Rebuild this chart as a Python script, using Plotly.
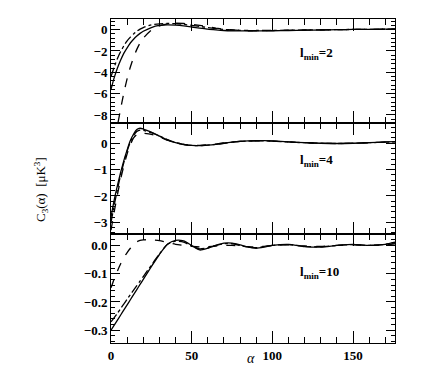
import plotly.graph_objects as go

alpha = [0, 2, 4, 6, 8, 10, 12, 14, 16, 18, 20, 25, 30, 35, 40, 45, 50, 55, 60, 65,
         70, 75, 80, 85, 90, 95, 100, 110, 120, 130, 140, 150, 160, 170, 176]

# lmin = 2 panel
p1_solid = [-5.6, -4.5, -3.6, -2.85, -2.2, -1.7, -1.25, -0.9, -0.6, -0.35, -0.15, 0.2, 0.4, 0.45,
            0.42, 0.35, 0.25, 0.15, 0.05, -0.02, -0.08, -0.11, -0.12, -0.12, -0.12, -0.11, -0.1,
            -0.08, -0.05, -0.03, 0.0, 0.02, 0.03, 0.05, 0.06]
p1_dashdot = [-4.4, -3.5, -2.7, -2.05, -1.5, -1.05, -0.7, -0.4, -0.15, 0.05, 0.2, 0.45, 0.55, 0.58,
              0.56, 0.5, 0.4, 0.3, 0.2, 0.1, 0.02, -0.03, -0.06, -0.08, -0.08, -0.08, -0.07,
              -0.05, -0.03, -0.02, 0.0, 0.02, 0.03, 0.04, 0.05]
p1_dashed = [-12.0, -10.5, -9.0, -7.4, -5.9, -4.6, -3.5, -2.6, -1.85, -1.25, -0.8, -0.05, 0.35, 0.55,
             0.6, 0.58, 0.5, 0.4, 0.28, 0.15, 0.05, -0.02, -0.07, -0.1, -0.1, -0.1, -0.09,
             -0.06, -0.04, -0.02, 0.0, 0.02, 0.03, 0.04, 0.05]

# lmin = 4 panel
p2_solid = [-2.8, -2.15, -1.6, -1.1, -0.65, -0.25, 0.1, 0.35, 0.52, 0.57, 0.54, 0.42, 0.27, 0.12,
            0.02, -0.05, -0.08, -0.09, -0.07, -0.04, 0.0, 0.04, 0.07, 0.09, 0.1, 0.1, 0.09,
            0.05, 0.02, 0.0, -0.01, 0.0, 0.02, 0.05, 0.06]
p2_dashdot = [-3.0, -2.35, -1.75, -1.2, -0.72, -0.3, 0.05, 0.3, 0.45, 0.5, 0.49, 0.4, 0.28, 0.14,
              0.03, -0.04, -0.08, -0.09, -0.07, -0.04, 0.0, 0.04, 0.07, 0.08, 0.09, 0.09, 0.08,
              0.05, 0.02, 0.0, -0.01, 0.0, 0.02, 0.04, 0.05]
p2_dashed = [-3.3, -2.6, -1.95, -1.35, -0.85, -0.4, -0.05, 0.2, 0.33, 0.38, 0.38, 0.34, 0.24, 0.12,
             0.03, -0.04, -0.07, -0.08, -0.06, -0.03, 0.01, 0.04, 0.07, 0.08, 0.09, 0.09, 0.08,
             0.05, 0.02, 0.0, -0.01, 0.0, 0.02, 0.04, 0.05]

# lmin = 10 panel
p3_solid = [-0.3, -0.282, -0.264, -0.246, -0.228, -0.21, -0.192, -0.174, -0.156, -0.138, -0.12,
            -0.075, -0.032, 0.004, 0.018, 0.016, 0.0, -0.016, -0.01, 0.0, 0.008, 0.008, 0.002,
            -0.006, -0.01, -0.006, 0.0, 0.004, -0.004, -0.006, 0.0, 0.004, 0.0, 0.004, 0.012]
p3_dashdot = [-0.27, -0.255, -0.24, -0.223, -0.207, -0.19, -0.174, -0.158, -0.142, -0.126, -0.11,
              -0.07, -0.03, 0.004, 0.015, 0.012, -0.002, -0.012, -0.008, 0.0, 0.006, 0.006, 0.0,
              -0.006, -0.008, -0.004, 0.0, 0.003, -0.003, -0.005, 0.0, 0.003, 0.0, 0.004, 0.01]
p3_dashed = [-0.15, -0.118, -0.09, -0.065, -0.043, -0.025, -0.01, 0.003, 0.013, 0.018, 0.02,
             0.02, 0.017, 0.01, 0.004, 0.0, -0.003, -0.005, -0.004, -0.002, 0.0, 0.0, -0.002,
             -0.004, -0.005, -0.003, 0.0, 0.002, -0.002, -0.003, 0.0, 0.002, 0.0, 0.002, 0.006]

panel_labels = ["l<sub>min</sub>=2", "l<sub>min</sub>=4", "l<sub>min</sub>=10"]
x_ticks = [0, 50, 100, 150]

FONT = "Liberation Serif"
fig = go.Figure()

panels = [
    ("x3", "y3", [p1_solid, p1_dashdot, p1_dashed]),
    ("x2", "y2", [p2_solid, p2_dashdot, p2_dashed]),
    ("x", "y", [p3_solid, p3_dashdot, p3_dashed]),
]
styles = ["solid", "dashdot", "dash"]
for xa, ya, series in panels:
    for vals, st in zip(series, styles):
        fig.add_trace(go.Scatter(x=alpha, y=vals, mode="lines", xaxis=xa, yaxis=ya,
                                 line=dict(color="black", width=1.3, dash=st, shape="spline",
                                           smoothing=0.6),
                                 showlegend=False, hoverinfo="skip"))

xcommon = dict(range=[0, 176], showline=True, linecolor="black", linewidth=1, mirror="allticks",
               ticks="inside", ticklen=12, tickcolor="black", tickwidth=1.2,
               tickvals=x_ticks, showgrid=False, zeroline=False,
               minor=dict(dtick=10, tick0=0, ticks="inside", ticklen=6, tickcolor="black",
                          tickwidth=1, showgrid=False),
               tickfont=dict(family=FONT, size=13, color="black", weight="bold"))
ycommon = dict(showline=True, linecolor="black", linewidth=1, mirror="allticks",
               ticks="inside", ticklen=9, tickcolor="black", tickwidth=1.2,
               showgrid=False, zeroline=False,
               tickfont=dict(family=FONT, size=13, color="black", weight="bold"))

# page body adds an 8 px offset; figure is sized so the plot area lands at x 111-395, y 19-343
fig.update_layout(
    width=420, height=366,
    margin=dict(l=103, r=33, t=11, b=31),
    paper_bgcolor="white", plot_bgcolor="white",
    xaxis=dict(**xcommon, anchor="y", showticklabels=True),
    xaxis2=dict(**xcommon, anchor="y2", showticklabels=False, matches="x"),
    xaxis3=dict(**xcommon, anchor="y3", showticklabels=False, matches="x"),
    yaxis=dict(**ycommon, domain=[0, 0.336], range=[-0.345, 0.04], tickvals=[0.0, -0.1, -0.2, -0.3],
               tickformat=".1f", anchor="x",
               minor=dict(dtick=0.02, tick0=0, ticks="inside", ticklen=4, tickcolor="black", showgrid=False)),
    yaxis2=dict(**ycommon, domain=[0.336, 0.6775], range=[-3.45, 0.75], tickvals=[0, -1, -2, -3],
                anchor="x2",
                minor=dict(dtick=0.2, tick0=0, ticks="inside", ticklen=4, tickcolor="black", showgrid=False)),
    yaxis3=dict(**ycommon, domain=[0.6775, 1], range=[-8.8, 1.0], tickvals=[0, -2, -4, -6, -8],
                anchor="x3",
                minor=dict(dtick=0.4, tick0=0, ticks="inside", ticklen=4, tickcolor="black", showgrid=False)),
)

label_y = [(343 - 53) / 324, (343 - 160) / 324, (343 - 272) / 324]
for txt, yy in zip(panel_labels, label_y):
    fig.add_annotation(x=(298 - 111) / 284, y=yy, xref="paper", yref="paper", text="<b>" + txt + "</b>",
                       showarrow=False, xanchor="left", yanchor="middle",
                       font=dict(family=FONT, size=13, color="black"))

fig.add_annotation(x=(30 - 111) / 284, y=(343 - 190) / 324, xref="paper", yref="paper",
                   text="C<sub>3</sub>(α)  [μK<sup>3</sup>]", textangle=-90, showarrow=False,
                   font=dict(family=FONT, size=13, color="black"))
fig.add_annotation(x=(251 - 111) / 284, y=(343 - 368) / 324, xref="paper", yref="paper",
                   text="<i>α</i>", showarrow=False,
                   font=dict(family=FONT, size=14, color="black"))

fig.write_html("out.html")
